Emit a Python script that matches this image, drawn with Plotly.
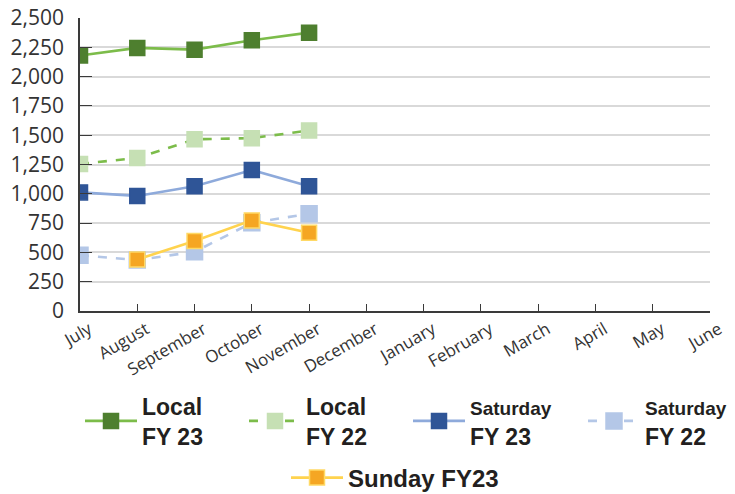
import plotly.graph_objects as go

months = ["July", "August", "September", "October", "November", "December",
          "January", "February", "March", "April", "May", "June"]

local_fy23 = [2180, 2245, 2230, 2310, 2375]
local_fy22 = [1255, 1305, 1465, 1475, 1540]
sat_fy23 = [1012, 982, 1065, 1203, 1065]
sat_fy22 = [476, 435, 505, 752, 830]
sun_fy23 = [None, 440, 597, 773, 668]

yticks = list(range(0, 2501, 250))

W, H = 735, 494

fig = go.Figure()

def add(name, y, line_color, marker_color, dash, legend, mline=None, msize=15):
    fig.add_trace(go.Scatter(
        x=months[:len(y)], y=y, name=name, mode="lines+markers",
        line=dict(color=line_color, width=2.6, dash=dash),
        marker=dict(symbol="square", size=msize, color=marker_color,
                    line=dict(color=mline or marker_color, width=1.5)),
        legend=legend, connectgaps=False,
    ))

add("<b>Local<br>FY 23</b>", local_fy23, "#7cbc4a", "#4e7f2f", "solid", "legend")
add("<b>Local<br>FY 22</b>", local_fy22, "#7cbc4a", "#c6e0b4", "dash", "legend3")
add("<b><span style='font-size:19px'>Saturday</span><br>FY 23</b>", sat_fy23, "#8eaadb", "#2f5597", "solid", "legend4")
add("<b><span style='font-size:19px'>Saturday</span><br>FY 22</b>", sat_fy22, "#b4c7e7", "#b4c7e7", "dash", "legend5", msize=16)
add("<b>Sunday FY23</b>", sun_fy23, "#ffd34e", "#f5a623", "solid", "legend2", mline="#ffd966")

LF = dict(family="Liberation Sans, Arial, sans-serif", size=23, color="#231f20")
IW = 52


def leg(text_left, py, size=23):
    f = dict(LF, size=size)
    return dict(orientation="h", xref="container", yref="container",
                x=(text_left - IW - 10) / W, xanchor="left",
                y=1 - py / H, yanchor="middle", font=f, itemwidth=IW,
                bgcolor="rgba(0,0,0,0)")

fig.update_layout(
    width=W, height=H,
    margin=dict(l=80, r=25, t=18, b=H - 311),
    paper_bgcolor="white", plot_bgcolor="white",
    showlegend=True,
    legend=leg(142, 421),
    legend3=leg(306, 421),
    legend4=leg(470, 421),
    legend5=leg(645, 421),
    legend2=leg(348, 478, 24),
)

fig.update_xaxes(
    type="category", categoryorder="array", categoryarray=months,
    range=[0, 11], tickangle=-30, automargin=False, ticklabeloverflow="allow",
    tickfont=dict(family="Open Sans, sans-serif", size=17, color="#333333"),
    showline=True, linecolor="#3a3a3a", linewidth=2,
    ticks="inside", ticklen=7, tickcolor="#3a3a3a", showgrid=False,
    ticklabelshift=9,
)
fig.update_yaxes(
    range=[0, 2500], tickvals=yticks, tickformat=",", automargin=False,
    ticklabeloverflow="allow",
    tickfont=dict(family="Open Sans, sans-serif", size=21, color="#333333"),
    showline=True, linecolor="#3a3a3a", linewidth=1.5,
    showgrid=True, gridcolor="#d9d9d9", gridwidth=1.5,
    ticks="inside", ticklen=12, tickcolor="#3a3a3a", zeroline=False,
    ticklabelstandoff=10,
)

fig.write_html("out.html",
               config={"displayModeBar": False},
               post_script="document.body.style.margin='0px';document.body.style.overflow='hidden';")
